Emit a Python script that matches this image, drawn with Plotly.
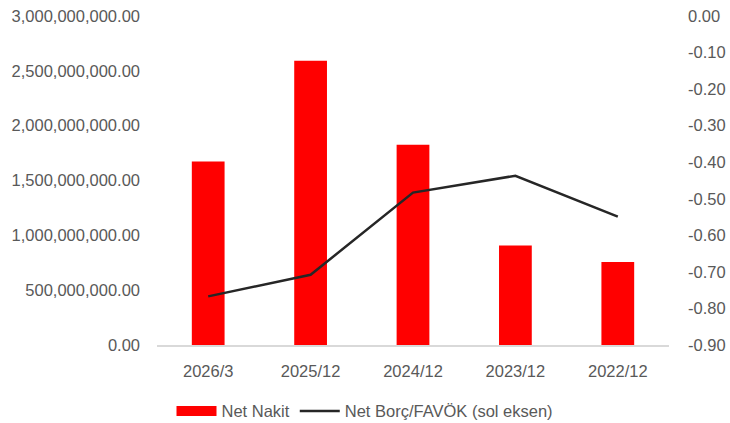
import plotly.graph_objects as go

categories = ["2026/3", "2025/12", "2024/12", "2023/12", "2022/12"]
net_nakit = [1673000000, 2593000000, 1827000000, 907000000, 756000000]
net_borc_favok = [-0.767, -0.708, -0.483, -0.437, -0.549]

left_ticks = [0, 500000000, 1000000000, 1500000000, 2000000000, 2500000000, 3000000000]
left_labels = ["0.00", "500,000,000.00", "1,000,000,000.00", "1,500,000,000.00",
               "2,000,000,000.00", "2,500,000,000.00", "3,000,000,000.00"]
right_ticks = [0, -0.1, -0.2, -0.3, -0.4, -0.5, -0.6, -0.7, -0.8, -0.9]
right_labels = ["0.00", "-0.10", "-0.20", "-0.30", "-0.40", "-0.50", "-0.60", "-0.70", "-0.80", "-0.90"]

font_fam = "Liberation Sans, Arial, sans-serif"
gray = "#595959"
fs = 16.5

fig = go.Figure()
fig.add_trace(go.Bar(x=categories, y=net_nakit, name="Net Nakit",
                     marker=dict(color="#ff0000", line=dict(width=0)),
                     width=0.32, yaxis="y", showlegend=False))
# legend entry for bars drawn as a wide swatch
fig.add_trace(go.Scatter(x=[None], y=[None], name="Net Nakit", mode="lines",
                         line=dict(color="#ff0000", width=11), yaxis="y"))
fig.add_trace(go.Scatter(x=categories, y=net_borc_favok, name="Net Borç/FAVÖK (sol eksen)",
                         mode="lines", line=dict(color="#262626", width=2.5),
                         yaxis="y2"))

fig.update_layout(
    width=730, height=423,
    margin=dict(l=157, r=61, t=16, b=78, autoexpand=False),
    paper_bgcolor="white", plot_bgcolor="white",
    font=dict(family=font_fam, size=fs, color=gray),
    xaxis=dict(showgrid=False, showline=True, linecolor="#d9d9d9", linewidth=1.5,
               ticks="", tickfont=dict(size=fs, color=gray), ticklabelstandoff=10),
    yaxis=dict(range=[0, 3000000000], tickvals=left_ticks, ticktext=left_labels,
               showgrid=False, zeroline=False, showline=False, ticks="",
               ticklabelstandoff=16, tickfont=dict(size=fs, color=gray)),
    yaxis2=dict(range=[-0.9, 0], tickvals=right_ticks, ticktext=right_labels,
                overlaying="y", side="right", showgrid=False, zeroline=False,
                showline=False, ticks="", ticklabelstandoff=18,
                tickfont=dict(size=fs, color=gray)),
    legend=dict(orientation="h", x=0.5, xanchor="center", xref="container",
                y=12, yanchor="middle", yref="container",
                font=dict(size=fs, color=gray), traceorder="normal",
                itemwidth=40),
    showlegend=True,
)
fig.update_layout(legend=dict(y=0.028))

fig.write_html("out.html")
